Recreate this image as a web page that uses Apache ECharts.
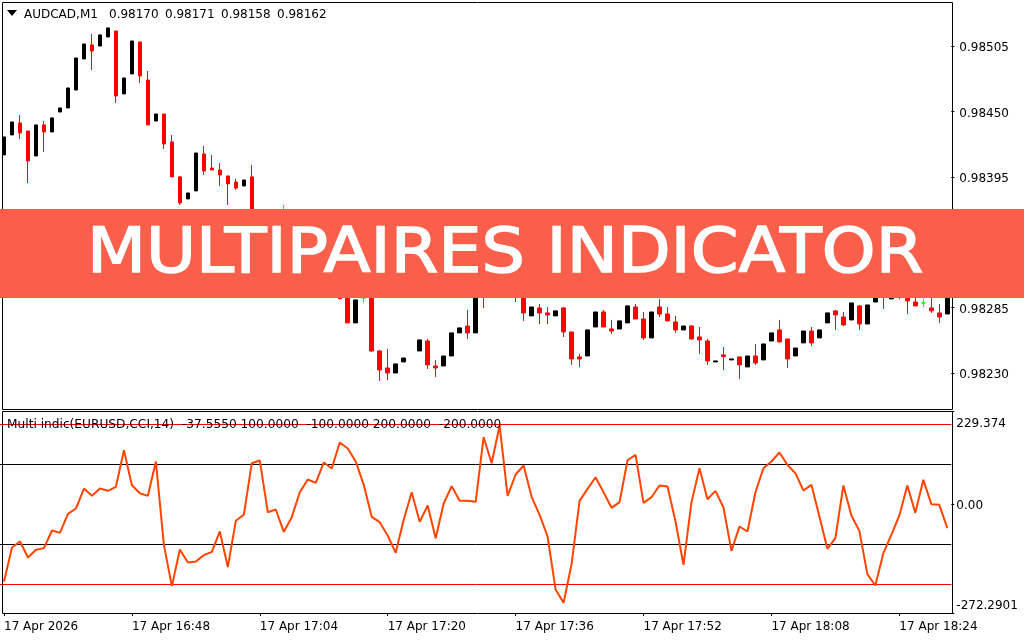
<!DOCTYPE html>
<html>
<head>
<meta charset="utf-8">
<title>MultiPairs indicator</title>
<script src="https://cdn.jsdelivr.net/npm/echarts@6/dist/echarts.min.js"></script>
<style>
html,body{margin:0;padding:0;background:#fff}
#chart{width:1024px;height:640px}
</style>
</head>
<body>
<div id="chart"></div>
<script>
/**
 * AUDCAD M1 candles, one row per minute from 16:32: [open, close, low, high]
 */
var ohlc = [
[0.984134,0.984285,0.984134,0.984285],[0.984302,0.984411,0.984302,0.984411],[0.984403,0.984319,0.984268,0.984470],[0.984335,0.984083,0.983898,0.984335],
[0.984125,0.984386,0.984125,0.984386],[0.984386,0.984327,0.984159,0.984419],[0.984327,0.984445,0.984327,0.984445],[0.984495,0.984529,0.984495,0.984529],
[0.984529,0.984697,0.984529,0.984697],[0.984680,0.984949,0.984680,0.984949],[0.984941,0.985067,0.984941,0.985067],[0.985059,0.985008,0.984848,0.985151],
[0.985050,0.985143,0.985050,0.985143],[0.985126,0.985202,0.985126,0.985202],[0.985176,0.984630,0.984571,0.985176],[0.984647,0.984781,0.984647,0.984781],
[0.984815,0.985092,0.984815,0.985092],[0.985084,0.984798,0.984739,0.985084],[0.984764,0.984386,0.984386,0.984840],[0.984419,0.984478,0.984419,0.984478],
[0.984478,0.984226,0.984184,0.984478],[0.984243,0.983949,0.983949,0.984302],[0.983949,0.983730,0.983713,0.983957],[0.983764,0.983814,0.983764,0.983814],
[0.983831,0.984150,0.983831,0.984150],[0.984142,0.983999,0.983965,0.984209],[0.984024,0.984007,0.984007,0.984134],[0.984007,0.983965,0.983873,0.984066],
[0.983957,0.983890,0.983713,0.983957],[0.983906,0.983856,0.983839,0.983932],[0.983873,0.983923,0.983873,0.983923],[0.983949,0.983545,0.983486,0.984050],
[0.983545,0.983671,0.983545,0.983671],[0.983654,0.983461,0.983461,0.983654],[0.983435,0.983604,0.983435,0.983604],[0.983570,0.983570,0.983486,0.983713],
[0.983570,0.983377,0.983335,0.983629],[0.983377,0.983461,0.983377,0.983461],[0.983461,0.983234,0.983234,0.983461],[0.983250,0.983124,0.983124,0.983250],
[0.983124,0.983234,0.983124,0.983234],[0.983234,0.983082,0.983082,0.983234],[0.983082,0.982925,0.982917,0.983082],[0.983040,0.982721,0.982721,0.983040],
[0.982721,0.982914,0.982721,0.982914],[0.982931,0.982931,0.982892,0.982998],[0.982948,0.982485,0.982477,0.982948],[0.982485,0.982325,0.982233,0.982494],
[0.982342,0.982300,0.982241,0.982502],[0.982300,0.982376,0.982300,0.982376],[0.982393,0.982426,0.982393,0.982426],'-',
[0.982485,0.982578,0.982485,0.982578],[0.982569,0.982368,0.982334,0.982586],[0.982359,0.982342,0.982267,0.982410],[0.982359,0.982443,0.982359,0.982443],
[0.982443,0.982637,0.982443,0.982637],[0.982637,0.982679,0.982637,0.982679],[0.982695,0.982637,0.982586,0.982830],[0.982637,0.983040,0.982637,0.983040],
[0.983166,0.982998,0.982847,0.983234],[0.983000,0.983180,0.983000,0.983180],[0.983180,0.983050,0.983050,0.983180],[0.983050,0.983120,0.983050,0.983120],
[0.983120,0.982960,0.982897,0.983160],[0.982998,0.982805,0.982738,0.983040],[0.982780,0.982855,0.982780,0.982855],[0.982847,0.982805,0.982712,0.982880],
[0.982805,0.982788,0.982712,0.982855],[0.982780,0.982822,0.982780,0.982822],[0.982847,0.982645,0.982603,0.982855],[0.982645,0.982418,0.982368,0.982645],
[0.982435,0.982418,0.982351,0.982460],[0.982443,0.982662,0.982443,0.982662],[0.982687,0.982813,0.982687,0.982813],[0.982813,0.982687,0.982687,0.982830],
[0.982670,0.982653,0.982628,0.982746],[0.982670,0.982738,0.982670,0.982738],[0.982721,0.982864,0.982721,0.982864],[0.982855,0.982754,0.982754,0.982880],
[0.982754,0.982595,0.982578,0.982813],[0.982595,0.982813,0.982595,0.982813],[0.982855,0.982796,0.982771,0.982923],[0.982796,0.982738,0.982738,0.982855],
[0.982729,0.982662,0.982637,0.982779],[0.982662,0.982695,0.982662,0.982695],[0.982695,0.982586,0.982578,0.982704],[0.982603,0.982578,0.982460,0.982687],
[0.982569,0.982401,0.982368,0.982586],[0.982393,0.982401,0.982393,0.982401],[0.982452,0.982438,0.982325,0.982519],[0.982410,0.982418,0.982410,0.982418],
[0.982435,0.982368,0.982250,0.982435],[0.982351,0.982443,0.982351,0.982443],[0.982443,0.982384,0.982368,0.982544],[0.982410,0.982544,0.982410,0.982544],
[0.982569,0.982637,0.982569,0.982637],[0.982662,0.982561,0.982561,0.982746],[0.982586,0.982418,0.982342,0.982586],[0.982443,0.982510,0.982443,0.982510],
[0.982553,0.982653,0.982553,0.982653],[0.982653,0.982553,0.982527,0.982687],[0.982595,0.982662,0.982595,0.982662],[0.982721,0.982805,0.982721,0.982805],
[0.982822,0.982788,0.982662,0.982830],[0.982771,0.982704,0.982695,0.982813],[0.982746,0.982889,0.982746,0.982889],[0.982864,0.982712,0.982662,0.982872],
[0.982712,0.982872,0.982712,0.982872],[0.982897,0.982998,0.982897,0.982998],[0.983050,0.982950,0.982838,0.983100],[0.982923,0.983000,0.982923,0.983000],
[0.983030,0.982960,0.982920,0.983070],[0.983000,0.982906,0.982796,0.983050],[0.982897,0.982864,0.982864,0.982950],[0.982889,0.982889,0.982855,0.982923],
[0.982847,0.982822,0.982805,0.982950],[0.982805,0.982771,0.982721,0.982880],[0.982796,0.982998,0.982796,0.982998]
];

/**
 * indicator line, same minutes
 */
var cci = [
-193.4,-108.4,-93.4,-133.4,-114.2,-110,-65.9,-71.8,-24.2,-10.9,39.1,20.8,39.1,33.3,43.3,134.9,47.4,27.4,20.8,106.6,
-101.8,-205.1,-113.4,-145.9,-143.4,-127.6,-119.2,-68.4,-157.6,-41.7,-26.7,102.4,109.1,-20.1,-13.4,-69.2,-32.6,29.9,61.6,53.3,
104.1,89.1,154.1,139.1,106.6,48.3,-31.7,-45.1,-78.4,-121.7,-39.2,29.9,-44.2,-3.4,-85.1,1.6,44.9,8.3,8.3,5.8,
167.4,102.4,196.6,20.8,74.1,96.6,18.3,-26.7,-80.9,-213.4,-246.8,-150.1,8.3,38.3,67.4,29.9,-9.2,4.9,109.9,123.3,
3.3,17.4,46.6,44.1,-43.4,-151.7,4.9,89.9,12.4,33.3,-8.4,-116.8,-55.9,-68.4,29.9,89.9,106.6,129.1,98.3,77.4,
34.1,48.3,-30.9,-111.8,-85.1,46.6,-28.4,-66.8,-175.1,-203.4,-122.6,-76.8,-28.4,46.6,-21.8,60.8,0,-1.7,-60.1
];

var timeLabels = ["17 Apr 2026","17 Apr 16:48","17 Apr 17:04","17 Apr 17:20","17 Apr 17:36","17 Apr 17:52","17 Apr 18:08","17 Apr 18:24"];
var priceTicks = [0.98505,0.9845,0.98395,0.9834,0.98285,0.9823];
// labels sit a little under their tick, as in the reference
var priceLabelAt = [0.985033,0.984483,0.983933,0.983383,0.982833,0.982283];
var priceLabelText = ["0.98505","0.98450","0.98395","0.98340","0.98285","0.98230"];
var cciLevelsRed = [200,-200];
var cciLevelsBlack = [100,-100];
var cciTicks = [233,0,-272.2901];
var cciLabelAt = [201.5,-4,-254];
var cciLabelText = ["229.374","0.00","-272.2901"];
var headerTexts = ["AUDCAD,M1","0.98170","0.98171","0.98158","0.98162"];

var FONT = "'DejaVu Sans'";
var categories = ohlc.map(function(row,i){ return i; });

function xAxisOf(gridIndex,showLabels){
    return {
        type:"category",
        gridIndex:gridIndex,
        data:categories,
        axisLine:{show:false,onZero:false},
        splitLine:{show:false},
        axisTick:{
            show:showLabels,
            length:3,
            alignWithLabel:true,
            interval:function(i){ return i%16==0; },
            lineStyle:{color:"#000"}
        },
        axisLabel:{
            show:showLabels,
            interval:function(i){ return i%16==0; },
            formatter:function(v,i){ return timeLabels[i/16]; },
            align:"left",
            margin:8,
            color:"#000",
            fontFamily:FONT,
            fontSize:12
        }
    };
}

var levelLines = cciLevelsRed.map(function(v){
    return {yAxis:v,lineStyle:{color:"#ff0000",width:1,type:"solid"}};
}).concat(cciLevelsBlack.map(function(v){
    return {yAxis:v,lineStyle:{color:"#000",width:1,type:"solid"}};
}));

// header pieces sit at the spacing of the original label
var headerX = [24,109,165,221,277];
var headerGraphics = headerTexts.map(function(t,i){
    return {type:"text",z:52,x:headerX[i],y:15,style:{text:t,fill:"#000",font:"12px "+FONT,verticalAlign:"middle"}};
});

var option = {
    animation:false,
    backgroundColor:"#fff",
    grid:[
        {left:-0.7,width:952,top:2,height:407},
        {left:-0.7,width:952,top:411,height:202}
    ],
    xAxis:[xAxisOf(0,false),xAxisOf(1,true)],
    yAxis:[
        {
            type:"value",gridIndex:0,position:"right",scale:true,
            min:0.981997,max:0.98542,
            axisLine:{show:false},splitLine:{show:false},
            axisTick:{show:true,length:3,customValues:priceTicks,lineStyle:{color:"#000"}},
            axisLabel:{
                customValues:priceLabelAt,
                formatter:function(v){ return priceLabelText[priceLabelAt.indexOf(v)]; },
                margin:8,color:"#000",fontFamily:FONT,fontSize:12
            }
        },
        {
            type:"value",gridIndex:1,position:"right",
            min:-272.2901,max:233,
            axisLine:{show:false},splitLine:{show:false},
            axisTick:{show:true,length:3,customValues:cciTicks,lineStyle:{color:"#000"}},
            axisLabel:{
                customValues:cciLabelAt,
                formatter:function(v){ return cciLabelText[cciLabelAt.indexOf(v)]; },
                margin:5,color:"#000",fontFamily:FONT,fontSize:12
            }
        }
    ],
    series:[
        {
            type:"candlestick",
            xAxisIndex:0,yAxisIndex:0,
            data:ohlc,
            barWidth:4,
            itemStyle:{
                color:"#000",color0:"#ff0000",
                borderColor:"#000",borderColor0:"#ff0000",
                borderColorDoji:"#00ff00",
                borderWidth:1
            }
        },
        {
            type:"line",
            xAxisIndex:1,yAxisIndex:1,
            data:cci,
            showSymbol:false,
            lineStyle:{color:"#ff4500",width:2},
            z:3,
            markLine:{
                silent:true,symbol:"none",label:{show:false},
                animation:false,
                data:levelLines,
                z:2
            }
        }
    ],
    graphic:[
        // chart frames and header text
        {type:"rect",z:50,shape:{x:0,y:0,width:2,height:410},style:{fill:"#fff"}},
        {type:"rect",z:51,shape:{x:2.5,y:2.5,width:950,height:407},style:{fill:"none",stroke:"#000",lineWidth:1}},
        {type:"rect",z:51,shape:{x:2.5,y:411.5,width:950,height:202},style:{fill:"none",stroke:"#000",lineWidth:1}},
        {type:"polygon",z:52,shape:{points:[[7,10],[17,10],[12,16]]},style:{fill:"#000"}},
        {type:"text",z:52,x:7,y:425,style:{text:"Multi indic(EURUSD,CCI,14)  -37.5550 100.0000  -100.0000 200.0000  -200.0000",fill:"#000",font:"12.2px "+FONT,verticalAlign:"middle"}},
        // banner across the chart
        {type:"rect",z:60,shape:{x:0,y:209,width:1024,height:89},style:{fill:"#fa5f4c"}},
        {type:"text",z:61,x:87,y:256,scaleX:1.086,style:{text:"MULTIPAIRES INDICATOR",fill:"#fff",stroke:"#fff",lineWidth:1.5,font:"63px "+FONT,verticalAlign:"middle"}}
    ].concat(headerGraphics)
};

var myChart = echarts.init(document.getElementById("chart"));
myChart.setOption(option);
</script>
</body>
</html>
